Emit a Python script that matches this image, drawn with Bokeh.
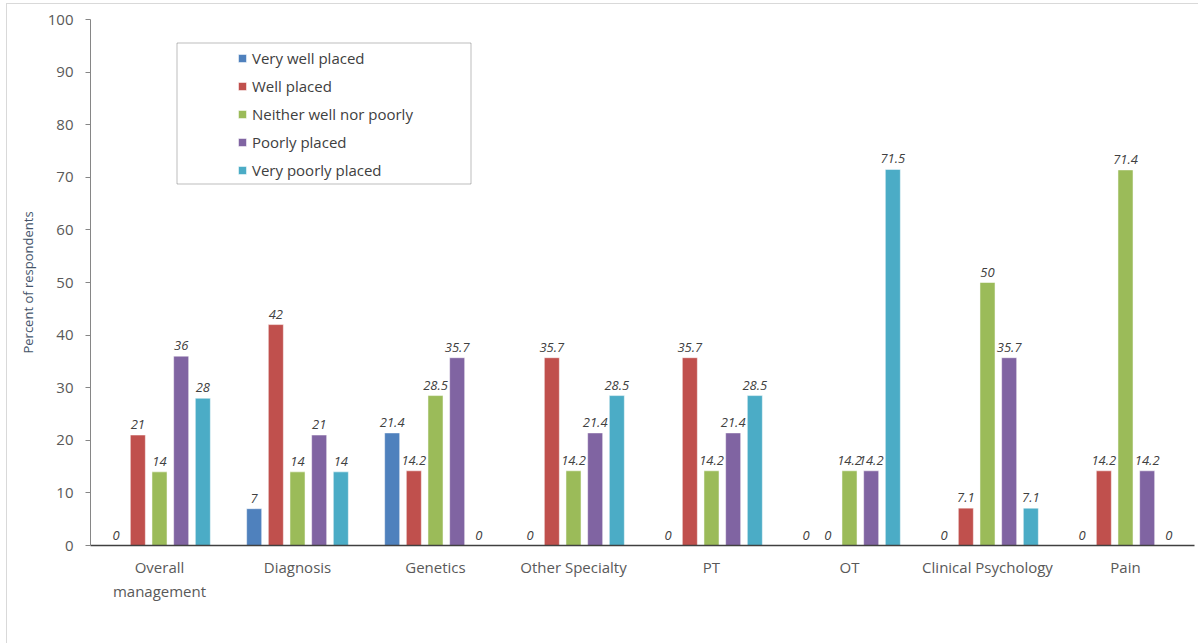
from bokeh.plotting import figure
from bokeh.models import (ColumnDataSource, FactorRange, Legend, LegendItem,
                          BoxAnnotation, SingleIntervalTicker, InlineStyleSheet)
from bokeh.transform import dodge
from bokeh.core.properties import value
from bokeh.embed import file_html
from bokeh.resources import INLINE

categories = ["Overall\nmanagement", "Diagnosis", "Genetics", "Other Specialty",
              "PT", "OT", "Clinical Psychology", "Pain"]
series_names = ["Very well placed", "Well placed", "Neither well nor poorly",
                "Poorly placed", "Very poorly placed"]
very_well = [0, 7, 21.4, 0, 0, 0, 0, 0]
well = [21, 42, 14.2, 35.7, 35.7, 0, 7.1, 14.2]
neither = [14, 14, 28.5, 14.2, 14.2, 14.2, 50, 71.4]
poorly = [36, 21, 35.7, 21.4, 21.4, 14.2, 35.7, 14.2]
very_poorly = [28, 14, 0, 28.5, 28.5, 71.5, 7.1, 0]

series = [very_well, well, neither, poorly, very_poorly]
colors = ["#4F81BD", "#C0504D", "#9BBB59", "#8064A2", "#4BACC6"]
offsets = [-0.314, -0.157, 0.0, 0.157, 0.314]
FONT = "Open Sans"

p = figure(width=1198, height=643, output_backend="svg", toolbar_location=None,
           x_range=FactorRange(*categories, range_padding=0),
           y_range=(0, 100),
           min_border_left=90, min_border_right=4, min_border_top=19,
           min_border_bottom=98)
p.outline_line_color = None
p.xgrid.visible = False
p.ygrid.visible = False
p.background_fill_color = "white"
p.border_fill_color = "white"

# thin light frame around the whole chart area (left and top edges visible)
p.stylesheets = [InlineStyleSheet(css=(
    ":host::after { content: ''; position: absolute; left: 6px; top: 3px; "
    "width: 1200px; height: 650px; border: 1px solid #D9D9D9; "
    "pointer-events: none; box-sizing: border-box; }"))]

data = {"cat": categories}
for i, s in enumerate(series):
    data[f"s{i}"] = s
    data[f"l{i}"] = [f"{v:g}" for v in s]
src = ColumnDataSource(data)

items = []
for i in range(5):
    xd = dodge("cat", offsets[i], range=p.x_range)
    r = p.vbar(x=xd, top=f"s{i}", width=0.109, source=src,
               fill_color=colors[i], line_color="white", line_alpha=0.5, line_width=1)
    p.text(x=xd, y=f"s{i}", text=f"l{i}", source=src, text_align="center",
           text_baseline="bottom", y_offset=-6, text_font=value(FONT),
           text_font_size="13px", text_font_style="italic", text_color="#404040")
    items.append(LegendItem(label=series_names[i], renderers=[r]))

legend = Legend(items=items, location=(147, 365), padding=0, margin=0,
                border_line_color=None, background_fill_alpha=0,
                glyph_width=10, glyph_height=10, label_standoff=5,
                label_height=20, spacing=8,
                label_text_font=FONT, label_text_font_size="15px",
                label_text_color="#404040")
p.add_layout(legend)

p.add_layout(BoxAnnotation(left=176.5, right=470.5, top=42.5, bottom=183.5,
                           left_units="canvas", right_units="canvas",
                           top_units="canvas", bottom_units="canvas",
                           fill_alpha=0, line_color="#262626", line_width=1))

# y axis
p.yaxis.ticker = SingleIntervalTicker(interval=10)
p.yaxis.axis_line_color = "#868686"
p.yaxis.major_tick_line_color = "#868686"
p.yaxis.major_tick_out = 5
p.yaxis.major_tick_in = 0
p.yaxis.minor_tick_line_color = None
p.yaxis.major_label_text_font = FONT
p.yaxis.major_label_text_font_size = "15px"
p.yaxis.major_label_text_color = "#595959"
p.yaxis.major_label_standoff = 12
p.yaxis.axis_label = "Percent of respondents"
p.yaxis.axis_label_text_font = FONT
p.yaxis.axis_label_text_font_size = "13px"
p.yaxis.axis_label_text_font_style = "normal"
p.yaxis.axis_label_text_color = "#44546A"
p.yaxis.axis_label_standoff = 8

# x axis
p.xaxis.axis_line_color = "#404040"
p.xaxis.axis_line_width = 1.5
p.xaxis.major_tick_line_color = None
p.xaxis.minor_tick_line_color = None
p.xaxis.major_label_text_font = FONT
p.xaxis.major_label_text_font_size = "15px"
p.xaxis.major_label_text_color = "#595959"
p.xaxis.major_label_standoff = 5

open("out.html", "w").write(file_html(p, INLINE))
